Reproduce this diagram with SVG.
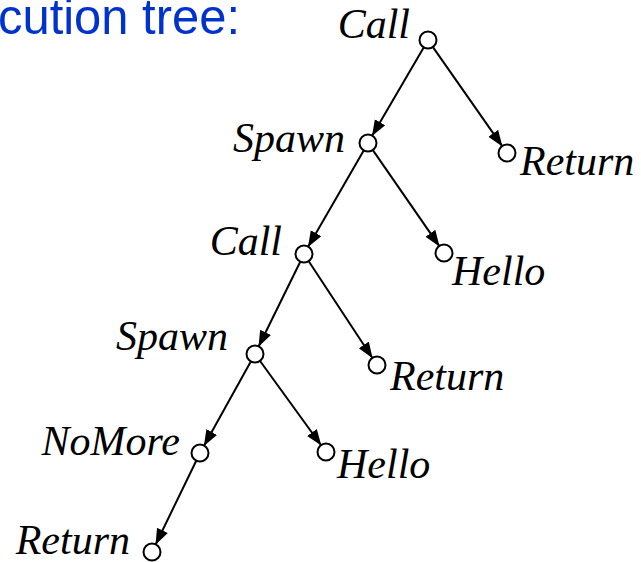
<svg xmlns="http://www.w3.org/2000/svg" width="641" height="562" viewBox="0 0 641 562">
<style>
.lbl{font-family:"Liberation Serif","Times New Roman",serif;font-style:italic;font-size:42px;fill:#000}
.nd{fill:#fff;stroke:#000;stroke-width:2}
.edge{stroke:#000;stroke-width:2;fill:none;marker-end:url(#ah)}
.title{font-family:"Liberation Sans",Arial,sans-serif;font-size:50px;fill:#0033cc}
</style>
<defs>
<marker id="ah" markerUnits="userSpaceOnUse" markerWidth="17" markerHeight="13" refX="16" refY="6" orient="auto">
<path d="M0,0 L16,6 L0,12 z" fill="#000"/>
</marker>
</defs>
<rect width="641" height="562" fill="#fff"/>
<text class="title" x="-2" y="34" textLength="242" lengthAdjust="spacingAndGlyphs">cution tree:</text>
<g id="connectors">
<line class="edge" x1="424" y1="46.9" x2="372" y2="136.1"/>
<line class="edge" x1="432.6" y1="46.6" x2="502.4" y2="146.4"/>
<line class="edge" x1="364" y1="149.9" x2="308" y2="247.1"/>
<line class="edge" x1="372.5" y1="149.6" x2="439.5" y2="246.4"/>
<line class="edge" x1="300.5" y1="261.2" x2="258.5" y2="346.8"/>
<line class="edge" x1="308.4" y1="260.7" x2="372.6" y2="358.3"/>
<line class="edge" x1="251.1" y1="361" x2="203.9" y2="446"/>
<line class="edge" x1="259.7" y1="360.5" x2="321.3" y2="445.5"/>
<line class="edge" x1="196.5" y1="460.2" x2="155.5" y2="544.8"/>
</g>
<g id="n-call1"><circle class="nd" cx="428" cy="40" r="8.5"/><text class="lbl" x="410" y="38" text-anchor="end">Call</text></g>
<g id="n-spawn1"><circle class="nd" cx="368" cy="143" r="8.5"/><text class="lbl" x="345" y="152" text-anchor="end">Spawn</text></g>
<g id="n-return1"><circle class="nd" cx="507" cy="153" r="8.5"/><text class="lbl" x="520" y="175">Return</text></g>
<g id="n-call2"><circle class="nd" cx="304" cy="254" r="8.5"/><text class="lbl" x="282" y="255" text-anchor="end">Call</text></g>
<g id="n-hello1"><circle class="nd" cx="444" cy="253" r="8.5"/><text class="lbl" x="452" y="285">Hello</text></g>
<g id="n-spawn2"><circle class="nd" cx="255" cy="354" r="8.5"/><text class="lbl" x="228" y="350" text-anchor="end">Spawn</text></g>
<g id="n-return2"><circle class="nd" cx="377" cy="365" r="8.5"/><text class="lbl" x="390" y="390">Return</text></g>
<g id="n-nomore"><circle class="nd" cx="200" cy="453" r="8.5"/><text class="lbl" x="180" y="455" text-anchor="end">NoMore</text></g>
<g id="n-hello2"><circle class="nd" cx="326" cy="452" r="8.5"/><text class="lbl" x="337" y="478">Hello</text></g>
<g id="n-return3"><circle class="nd" cx="152" cy="552" r="8.5"/><text class="lbl" x="130" y="554" text-anchor="end">Return</text></g>
</svg>
